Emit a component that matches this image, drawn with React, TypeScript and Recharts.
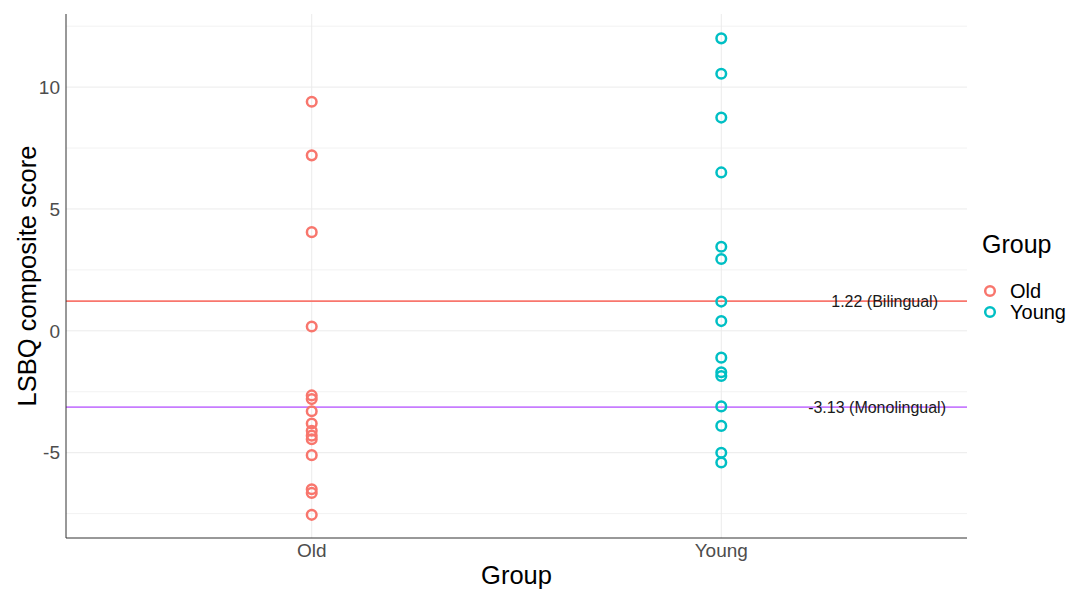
import { CartesianGrid, Legend, ReferenceLine, Scatter, ScatterChart, XAxis, YAxis } from "recharts";

const groups = ["Old", "Young"];
const groupColors = ["#F8766D", "#00BFC4"];

// LSBQ composite scores per participant
const oldScores = [9.4, 7.2, 4.05, 0.18, -2.65, -2.8, -3.3, -3.8, -4.1, -4.3, -4.45, -5.1, -6.5, -6.65, -7.55];
const youngScores = [12.0, 10.55, 8.75, 6.5, 3.45, 2.95, 1.2, 0.4, -1.1, -1.7, -1.85, -3.1, -3.9, -5.0, -5.4];

const yTicks = [-5, 0, 5, 10];
const minorGrid = [-7.5, -2.5, 2.5, 7.5, 12.5];

const thresholds = [
  { value: 1.22, label: "1.22 (Bilingual)", color: "#F8766D", offset: 29 },
  { value: -3.13, label: "-3.13 (Monolingual)", color: "#C77CFF", offset: 21 },
];

const font = "'Liberation Sans', Arial, Helvetica, sans-serif";

const oldData = oldScores.map((v) => ({ x: 1, y: v }));
const youngData = youngScores.map((v) => ({ x: 2, y: v }));

const HollowDot = (color: string) => (props: any) => (
  <circle cx={props.cx} cy={props.cy} r={4.8} fill="none" stroke={color} strokeWidth={2.5} />
);

const GroupLegend = () => (
  <svg width={95} height={110} style={{ fontFamily: font, display: "block" }}>
    <text x={7} y={28} fontSize={25} fill="#000">Group</text>
    {groups.map((g, i) => (
      <g key={g}>
        <circle cx={15} cy={66 + i * 21} r={4.8} fill="none" stroke={groupColors[i]} strokeWidth={2.5} />
        <text x={35} y={73 + i * 21} fontSize={20} fill="#000">{g}</text>
      </g>
    ))}
  </svg>
);

export default function App() {
  return (
    <div style={{ position: "absolute", left: 0, top: 0, fontFamily: font }}>
      <ScatterChart width={1070} height={590} margin={{ top: 14, right: 103, bottom: 0, left: 0 }}>
        <CartesianGrid horizontalValues={minorGrid} vertical={false} stroke="#f2f2f2" strokeWidth={1} />
        <CartesianGrid horizontalValues={yTicks} verticalValues={[1, 2]} stroke="#ebebeb" strokeWidth={1} />
        <XAxis
          type="number"
          dataKey="x"
          domain={[0.4, 2.6]}
          ticks={[1, 2]}
          tickFormatter={(v) => groups[v - 1]}
          height={52}
          tickLine={false}
          axisLine={{ stroke: "#333", strokeWidth: 1 }}
          tick={{ fill: "#4D4D4D", fontSize: 19, fontFamily: font }}
          tickMargin={0}
          label={{ value: "Group", position: "insideBottom", offset: 6, fill: "#000", fontSize: 25.5, fontFamily: font }}
        />
        <YAxis
          type="number"
          dataKey="y"
          domain={[-8.5, 13]}
          ticks={yTicks}
          width={66}
          tickLine={false}
          axisLine={{ stroke: "#333", strokeWidth: 1 }}
          tick={{ fill: "#4D4D4D", fontSize: 19, fontFamily: font }}
          tickMargin={0}
          label={{
            value: "LSBQ composite score",
            angle: -90,
            position: "insideLeft",
            offset: 27,
            fill: "#000",
            fontSize: 25.5,
            fontFamily: font,
            style: { textAnchor: "middle" },
          }}
        />
        {thresholds.map((t) => (
          <ReferenceLine
            key={t.label}
            y={t.value}
            stroke={t.color}
            strokeWidth={1.8}
            label={{ value: t.label, position: "insideRight", offset: t.offset, fill: "#1a1a1a", fontSize: 16, fontFamily: font }}
          />
        ))}
        <Scatter name="Old" data={oldData} shape={HollowDot(groupColors[0])} isAnimationActive={false} />
        <Scatter name="Young" data={youngData} shape={HollowDot(groupColors[1])} isAnimationActive={false} />
        <Legend
          layout="horizontal"
          align="center"
          verticalAlign="middle"
          content={() => <GroupLegend />}
          wrapperStyle={{ left: 975, top: 225, width: 95, height: 110 }}
        />
      </ScatterChart>
    </div>
  );
}
